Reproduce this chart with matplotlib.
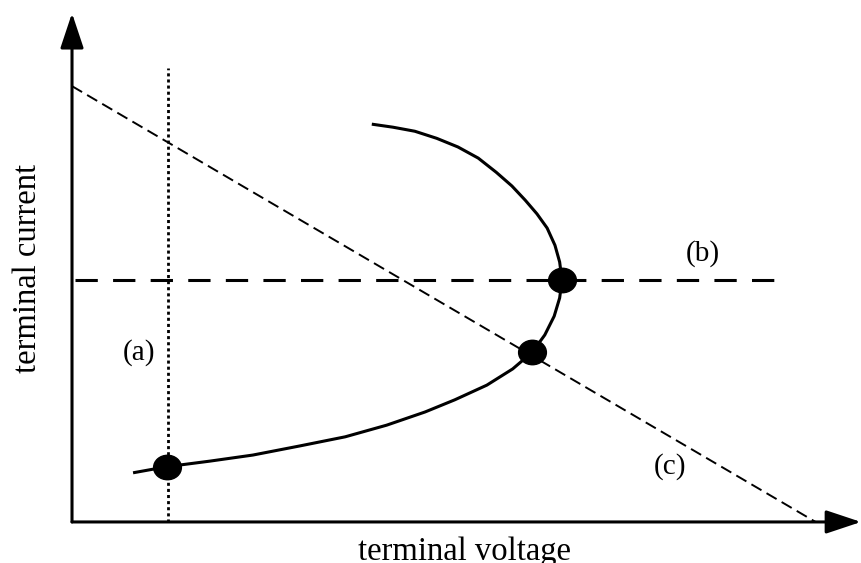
import matplotlib.pyplot as plt
from matplotlib.path import Path

# nose curve: terminal voltage vs terminal current
volts = [0.78, 1.21, 1.76, 2.31, 2.91, 3.49, 4.02, 4.51, 4.89, 5.30, 5.63, 5.88,
         6.04, 6.16, 6.23, 6.26, 6.23, 6.17, 6.07, 5.94, 5.79, 5.62, 5.42, 5.19,
         4.93, 4.66, 4.38, 4.10, 3.83]
amps = [0.97, 1.09, 1.20, 1.32, 1.50, 1.68, 1.91, 2.17, 2.41, 2.70, 3.02, 3.35,
        3.69, 4.06, 4.42, 4.77, 5.13, 5.46, 5.80, 6.08, 6.35, 6.63, 6.90, 7.18,
        7.40, 7.57, 7.71, 7.79, 7.85]

# load lines
v_const = 1.23                      # (a) constant voltage
i_const = 4.77                      # (b) constant current
res_v = [0.0, 9.5]                  # (c) resistive load line
res_i = [8.6, 0.0]

# operating points
op_v = [1.21, 5.88, 6.26]
op_i = [1.09, 3.35, 4.77]

fig = plt.figure(figsize=(8.61, 5.63), dpi=100)
ax = fig.add_axes([0, 0, 1, 1])
ax.set_xlim(-0.92, 10.08)
ax.set_ylim(-0.81, 10.30)
ax.axis('off')

serif = ['Liberation Serif', 'DejaVu Serif']

# axes with arrow heads
head = dict(arrowstyle='-|>,head_length=0.6,head_width=0.2', lw=2.2, color='k',
            mutation_scale=36, shrinkA=0, shrinkB=0)
ax.annotate('', xy=(10.08, 0), xytext=(0, 0), arrowprops=head)
ax.annotate('', xy=(0, 10.04), xytext=(0, 0), arrowprops=head)

ax.plot([v_const, v_const], [0, 8.95], color='k', lw=2.0, linestyle=(0, (1.1, 1.1)))
ax.plot([0.04, 8.98], [i_const, i_const], color='k', lw=2.2, linestyle=(0, (7.3, 5)))
ax.plot(res_v, res_i, color='k', lw=1.4, linestyle=(0, (6, 3)))

ax.plot(volts, amps, color='k', lw=2.2, solid_joinstyle='round', solid_capstyle='butt')

# slightly flattened dots
circ = Path.unit_circle()
oval = Path(circ.vertices * [1.0, 0.88], circ.codes)
ax.plot(op_v, op_i, linestyle='none', marker=oval, color='k', ms=20)

ax.text(0.85, 3.35, '(a)', fontsize=21, family=serif, ha='center', va='center')
ax.text(8.06, 5.30, '(b)', fontsize=21, family=serif, ha='center', va='center')
ax.text(7.64, 1.09, '(c)', fontsize=21, family=serif, ha='center', va='center')

ax.text(5.02, -0.75, 'terminal voltage', fontsize=23.5, family=serif,
        ha='center', va='baseline')
ax.text(-0.56, 5.0, 'terminal current', fontsize=23.5, family=serif,
        ha='center', va='center', rotation=90)

fig.savefig('out.png', dpi=100)
